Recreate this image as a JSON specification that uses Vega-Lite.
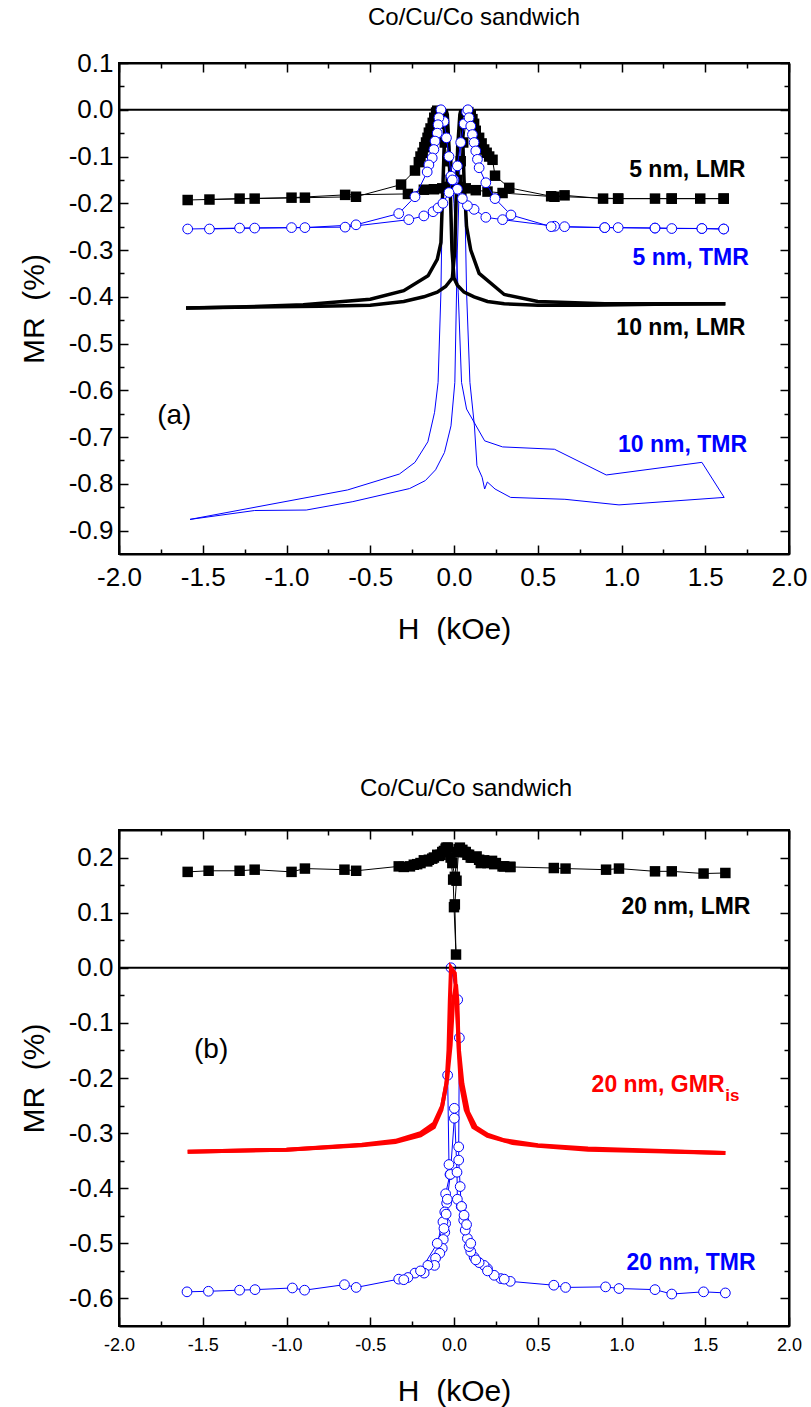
{
  "$schema": "https://vega.github.io/schema/vega-lite/v6.json",
  "background": "white",
  "padding": {"left": 18, "top": 5, "right": 5, "bottom": 0},
  "spacing": 131,
  "config": {
    "font": "Liberation Sans",
    "view": {"stroke": "black", "strokeWidth": 2},
    "axis": {"grid": false, "labelColor": "black", "titleColor": "black", "tickColor": "black", "domainColor": "black", "tickWidth": 1.5, "domainWidth": 2, "labelFlush": false, "labelOverlap": false, "titleFontWeight": "normal", "labelFont": "Liberation Sans", "titleFont": "Liberation Sans"}
  },
  "datasets": {
    "lmr5": [
      {"H": 1.61, "MR": -0.19, "b": "A"}, {"H": 1.47, "MR": -0.19, "b": "A"}, {"H": 1.3, "MR": -0.19, "b": "A"}, {"H": 1.2, "MR": -0.19, "b": "A"}, {"H": 0.98, "MR": -0.19, "b": "A"}, {"H": 0.89, "MR": -0.19, "b": "A"}, {"H": 0.66, "MR": -0.183, "b": "A"}, {"H": 0.6, "MR": -0.186, "b": "A"}, {"H": 0.29, "MR": -0.178, "b": "A"}, {"H": 0.2, "MR": -0.175, "b": "A"}, {"H": 0.13, "MR": -0.172, "b": "A"}, {"H": 0.07, "MR": -0.168, "b": "A"}, {"H": 0.03, "MR": -0.165, "b": "A"}, {"H": 0.0, "MR": -0.16, "b": "A"}, {"H": -0.02, "MR": -0.15, "b": "A"}, {"H": -0.04, "MR": -0.11, "b": "A"}, {"H": -0.055, "MR": -0.07, "b": "A"}, {"H": -0.07, "MR": -0.03, "b": "A"}, {"H": -0.085, "MR": -0.005, "b": "A"}, {"H": -0.1, "MR": -0.002, "b": "A"}, {"H": -0.107, "MR": -0.006, "b": "A"}, {"H": -0.118, "MR": -0.017, "b": "A"}, {"H": -0.127, "MR": -0.028, "b": "A"}, {"H": -0.14, "MR": -0.04, "b": "A"}, {"H": -0.15, "MR": -0.049, "b": "A"}, {"H": -0.158, "MR": -0.06, "b": "A"}, {"H": -0.167, "MR": -0.07, "b": "A"}, {"H": -0.177, "MR": -0.08, "b": "A"}, {"H": -0.187, "MR": -0.092, "b": "A"}, {"H": -0.2, "MR": -0.1, "b": "A"}, {"H": -0.21, "MR": -0.112, "b": "A"}, {"H": -0.233, "MR": -0.13, "b": "A"}, {"H": -0.316, "MR": -0.16, "b": "A"}, {"H": -0.585, "MR": -0.186, "b": "A"}, {"H": -0.89, "MR": -0.188, "b": "A"}, {"H": -1.19, "MR": -0.19, "b": "A"}, {"H": -1.46, "MR": -0.192, "b": "A"},
      {"H": -1.59, "MR": -0.193, "b": "B"}, {"H": -1.28, "MR": -0.19, "b": "B"}, {"H": -0.97, "MR": -0.188, "b": "B"}, {"H": -0.65, "MR": -0.182, "b": "B"}, {"H": -0.275, "MR": -0.18, "b": "B"}, {"H": -0.18, "MR": -0.171, "b": "B"}, {"H": -0.12, "MR": -0.17, "b": "B"}, {"H": -0.07, "MR": -0.168, "b": "B"}, {"H": -0.03, "MR": -0.165, "b": "B"}, {"H": 0.0, "MR": -0.16, "b": "B"}, {"H": 0.02, "MR": -0.15, "b": "B"}, {"H": 0.04, "MR": -0.11, "b": "B"}, {"H": 0.055, "MR": -0.07, "b": "B"}, {"H": 0.07, "MR": -0.03, "b": "B"}, {"H": 0.085, "MR": -0.005, "b": "B"}, {"H": 0.1, "MR": -0.01, "b": "B"}, {"H": 0.11, "MR": -0.02, "b": "B"}, {"H": 0.12, "MR": -0.03, "b": "B"}, {"H": 0.13, "MR": -0.045, "b": "B"}, {"H": 0.15, "MR": -0.06, "b": "B"}, {"H": 0.165, "MR": -0.072, "b": "B"}, {"H": 0.18, "MR": -0.085, "b": "B"}, {"H": 0.195, "MR": -0.092, "b": "B"}, {"H": 0.21, "MR": -0.1, "b": "B"}, {"H": 0.23, "MR": -0.107, "b": "B"}, {"H": 0.245, "MR": -0.141, "b": "B"}, {"H": 0.33, "MR": -0.167, "b": "B"}, {"H": 0.58, "MR": -0.185, "b": "B"}, {"H": 0.98, "MR": -0.19, "b": "B"}, {"H": 1.3, "MR": -0.19, "b": "B"}, {"H": 1.61, "MR": -0.19, "b": "B"}
    ],
    "tmr5": [
      {"H": 1.61, "MR": -0.255, "b": "A"}, {"H": 1.48, "MR": -0.254, "b": "A"}, {"H": 1.3, "MR": -0.254, "b": "A"}, {"H": 1.2, "MR": -0.253, "b": "A"}, {"H": 0.98, "MR": -0.252, "b": "A"}, {"H": 0.9, "MR": -0.252, "b": "A"}, {"H": 0.66, "MR": -0.25, "b": "A"}, {"H": 0.6, "MR": -0.249, "b": "A"}, {"H": 0.29, "MR": -0.235, "b": "A"}, {"H": 0.19, "MR": -0.23, "b": "A"}, {"H": 0.12, "MR": -0.213, "b": "A"}, {"H": 0.08, "MR": -0.205, "b": "A"}, {"H": 0.05, "MR": -0.19, "b": "A"}, {"H": 0.02, "MR": -0.17, "b": "A"}, {"H": 0.0, "MR": -0.15, "b": "A"}, {"H": -0.018, "MR": -0.142, "b": "A"}, {"H": -0.03, "MR": -0.1, "b": "A"}, {"H": -0.045, "MR": -0.06, "b": "A"}, {"H": -0.06, "MR": -0.025, "b": "A"}, {"H": -0.078, "MR": 0.0, "b": "A"}, {"H": -0.09, "MR": -0.017, "b": "A"}, {"H": -0.095, "MR": -0.032, "b": "A"}, {"H": -0.1, "MR": -0.05, "b": "A"}, {"H": -0.113, "MR": -0.067, "b": "A"}, {"H": -0.12, "MR": -0.085, "b": "A"}, {"H": -0.13, "MR": -0.103, "b": "A"}, {"H": -0.15, "MR": -0.118, "b": "A"}, {"H": -0.16, "MR": -0.133, "b": "A"}, {"H": -0.233, "MR": -0.186, "b": "A"}, {"H": -0.33, "MR": -0.222, "b": "A"}, {"H": -0.585, "MR": -0.246, "b": "A"}, {"H": -0.89, "MR": -0.252, "b": "A"}, {"H": -1.19, "MR": -0.253, "b": "A"}, {"H": -1.46, "MR": -0.255, "b": "A"},
      {"H": -1.59, "MR": -0.255, "b": "B"}, {"H": -1.28, "MR": -0.253, "b": "B"}, {"H": -0.97, "MR": -0.252, "b": "B"}, {"H": -0.65, "MR": -0.251, "b": "B"}, {"H": -0.27, "MR": -0.235, "b": "B"}, {"H": -0.18, "MR": -0.227, "b": "B"}, {"H": -0.125, "MR": -0.218, "b": "B"}, {"H": -0.095, "MR": -0.21, "b": "B"}, {"H": -0.066, "MR": -0.2, "b": "B"}, {"H": -0.03, "MR": -0.177, "b": "B"}, {"H": -0.01, "MR": -0.15, "b": "B"}, {"H": 0.02, "MR": -0.12, "b": "B"}, {"H": 0.04, "MR": -0.07, "b": "B"}, {"H": 0.06, "MR": -0.03, "b": "B"}, {"H": 0.075, "MR": -0.005, "b": "B"}, {"H": 0.083, "MR": 0.0, "b": "B"}, {"H": 0.09, "MR": -0.017, "b": "B"}, {"H": 0.1, "MR": -0.035, "b": "B"}, {"H": 0.11, "MR": -0.053, "b": "B"}, {"H": 0.12, "MR": -0.07, "b": "B"}, {"H": 0.13, "MR": -0.088, "b": "B"}, {"H": 0.14, "MR": -0.106, "b": "B"}, {"H": 0.15, "MR": -0.124, "b": "B"}, {"H": 0.19, "MR": -0.156, "b": "B"}, {"H": 0.245, "MR": -0.19, "b": "B"}, {"H": 0.34, "MR": -0.225, "b": "B"}, {"H": 0.58, "MR": -0.25, "b": "B"}, {"H": 0.9, "MR": -0.252, "b": "B"}, {"H": 1.2, "MR": -0.253, "b": "B"}, {"H": 1.48, "MR": -0.254, "b": "B"}, {"H": 1.61, "MR": -0.255, "b": "B"}
    ],
    "lmr10": [
      {"H": 1.62, "MR": -0.415, "b": "A"}, {"H": 1.2, "MR": -0.416, "b": "A"}, {"H": 0.8, "MR": -0.418, "b": "A"}, {"H": 0.5, "MR": -0.418, "b": "A"}, {"H": 0.3, "MR": -0.415, "b": "A"}, {"H": 0.2, "MR": -0.41, "b": "A"}, {"H": 0.12, "MR": -0.4, "b": "A"}, {"H": 0.06, "MR": -0.39, "b": "A"}, {"H": 0.02, "MR": -0.375, "b": "A"}, {"H": 0.0, "MR": -0.36, "b": "A"}, {"H": -0.012, "MR": -0.3, "b": "A"}, {"H": -0.02, "MR": -0.2, "b": "A"}, {"H": -0.03, "MR": -0.08, "b": "A"}, {"H": -0.04, "MR": -0.01, "b": "A"}, {"H": -0.048, "MR": 0.0, "b": "A"}, {"H": -0.055, "MR": -0.04, "b": "A"}, {"H": -0.065, "MR": -0.15, "b": "A"}, {"H": -0.078, "MR": -0.284, "b": "A"}, {"H": -0.1, "MR": -0.32, "b": "A"}, {"H": -0.155, "MR": -0.355, "b": "A"}, {"H": -0.3, "MR": -0.387, "b": "A"}, {"H": -0.5, "MR": -0.405, "b": "A"}, {"H": -0.9, "MR": -0.417, "b": "A"}, {"H": -1.3, "MR": -0.422, "b": "A"}, {"H": -1.6, "MR": -0.424, "b": "A"},
      {"H": -1.6, "MR": -0.424, "b": "B"}, {"H": -1.2, "MR": -0.422, "b": "B"}, {"H": -0.8, "MR": -0.42, "b": "B"}, {"H": -0.5, "MR": -0.418, "b": "B"}, {"H": -0.3, "MR": -0.41, "b": "B"}, {"H": -0.18, "MR": -0.4, "b": "B"}, {"H": -0.1, "MR": -0.39, "b": "B"}, {"H": -0.05, "MR": -0.378, "b": "B"}, {"H": -0.01, "MR": -0.36, "b": "B"}, {"H": 0.005, "MR": -0.3, "b": "B"}, {"H": 0.012, "MR": -0.2, "b": "B"}, {"H": 0.022, "MR": -0.08, "b": "B"}, {"H": 0.035, "MR": -0.01, "b": "B"}, {"H": 0.042, "MR": 0.0, "b": "B"}, {"H": 0.05, "MR": -0.04, "b": "B"}, {"H": 0.06, "MR": -0.15, "b": "B"}, {"H": 0.075, "MR": -0.25, "b": "B"}, {"H": 0.1, "MR": -0.3, "b": "B"}, {"H": 0.15, "MR": -0.35, "b": "B"}, {"H": 0.3, "MR": -0.395, "b": "B"}, {"H": 0.5, "MR": -0.41, "b": "B"}, {"H": 0.9, "MR": -0.415, "b": "B"}, {"H": 1.3, "MR": -0.415, "b": "B"}, {"H": 1.62, "MR": -0.415, "b": "B"}
    ],
    "tmr10": [
      {"H": 1.613, "MR": -0.829, "b": "A"}, {"H": 1.48, "MR": -0.754, "b": "A"}, {"H": 0.909, "MR": -0.781, "b": "A"}, {"H": 0.6, "MR": -0.726, "b": "A"}, {"H": 0.29, "MR": -0.721, "b": "A"}, {"H": 0.183, "MR": -0.708, "b": "A"}, {"H": 0.075, "MR": -0.64, "b": "A"}, {"H": 0.045, "MR": -0.583, "b": "A"}, {"H": 0.025, "MR": -0.39, "b": "A"}, {"H": 0.0, "MR": -0.2, "b": "A"}, {"H": -0.03, "MR": -0.06, "b": "A"}, {"H": -0.055, "MR": -0.01, "b": "A"}, {"H": -0.066, "MR": -0.1, "b": "A"}, {"H": -0.078, "MR": -0.39, "b": "A"}, {"H": -0.095, "MR": -0.583, "b": "A"}, {"H": -0.116, "MR": -0.647, "b": "A"}, {"H": -0.156, "MR": -0.71, "b": "A"}, {"H": -0.233, "MR": -0.754, "b": "A"}, {"H": -0.326, "MR": -0.779, "b": "A"}, {"H": -0.635, "MR": -0.813, "b": "A"}, {"H": -1.576, "MR": -0.876, "b": "A"},
      {"H": -1.576, "MR": -0.876, "b": "B"}, {"H": -1.19, "MR": -0.857, "b": "B"}, {"H": -0.882, "MR": -0.856, "b": "B"}, {"H": -0.604, "MR": -0.838, "b": "B"}, {"H": -0.265, "MR": -0.81, "b": "B"}, {"H": -0.171, "MR": -0.793, "b": "B"}, {"H": -0.11, "MR": -0.77, "b": "B"}, {"H": -0.057, "MR": -0.733, "b": "B"}, {"H": -0.018, "MR": -0.676, "b": "B"}, {"H": 0.005, "MR": -0.583, "b": "B"}, {"H": 0.02, "MR": -0.3, "b": "B"}, {"H": 0.04, "MR": -0.06, "b": "B"}, {"H": 0.05, "MR": -0.01, "b": "B"}, {"H": 0.06, "MR": -0.1, "b": "B"}, {"H": 0.075, "MR": -0.39, "b": "B"}, {"H": 0.095, "MR": -0.583, "b": "B"}, {"H": 0.122, "MR": -0.676, "b": "B"}, {"H": 0.137, "MR": -0.761, "b": "B"}, {"H": 0.168, "MR": -0.786, "b": "B"}, {"H": 0.183, "MR": -0.811, "b": "B"}, {"H": 0.199, "MR": -0.796, "b": "B"}, {"H": 0.245, "MR": -0.811, "b": "B"}, {"H": 0.338, "MR": -0.829, "b": "B"}, {"H": 0.662, "MR": -0.833, "b": "B"}, {"H": 0.985, "MR": -0.845, "b": "B"}, {"H": 1.613, "MR": -0.829, "b": "B"}
    ],
    "lmr20": [
      {"H": 1.62, "MR": 0.172, "b": "A"}, {"H": 1.49, "MR": 0.171, "b": "A"}, {"H": 1.3, "MR": 0.175, "b": "A"}, {"H": 1.2, "MR": 0.175, "b": "A"}, {"H": 0.985, "MR": 0.18, "b": "A"}, {"H": 0.908, "MR": 0.178, "b": "A"}, {"H": 0.666, "MR": 0.18, "b": "A"}, {"H": 0.596, "MR": 0.181, "b": "A"}, {"H": 0.336, "MR": 0.183, "b": "A"}, {"H": 0.29, "MR": 0.184, "b": "A"}, {"H": 0.227, "MR": 0.194, "b": "A"}, {"H": 0.16, "MR": 0.19, "b": "A"}, {"H": 0.135, "MR": 0.202, "b": "A"}, {"H": 0.1, "MR": 0.2, "b": "A"}, {"H": 0.06, "MR": 0.21, "b": "A"}, {"H": 0.028, "MR": 0.215, "b": "A"}, {"H": 0.015, "MR": 0.158, "b": "A"}, {"H": 0.005, "MR": 0.115, "b": "A"}, {"H": 0.012, "MR": 0.024, "b": "A"}, {"H": 0.0, "MR": 0.11, "b": "A"}, {"H": -0.005, "MR": 0.16, "b": "A"}, {"H": -0.02, "MR": 0.2, "b": "A"}, {"H": -0.05, "MR": 0.216, "b": "A"}, {"H": -0.08, "MR": 0.205, "b": "A"}, {"H": -0.12, "MR": 0.2, "b": "A"}, {"H": -0.18, "MR": 0.195, "b": "A"}, {"H": -0.24, "MR": 0.187, "b": "A"}, {"H": -0.33, "MR": 0.184, "b": "A"}, {"H": -0.584, "MR": 0.176, "b": "A"}, {"H": -0.654, "MR": 0.178, "b": "A"}, {"H": -0.89, "MR": 0.18, "b": "A"}, {"H": -0.97, "MR": 0.174, "b": "A"}, {"H": -1.19, "MR": 0.178, "b": "A"}, {"H": -1.28, "MR": 0.176, "b": "A"}, {"H": -1.465, "MR": 0.176, "b": "A"}, {"H": -1.59, "MR": 0.174, "b": "A"},
      {"H": -0.3, "MR": 0.183, "b": "B"}, {"H": -0.263, "MR": 0.184, "b": "B"}, {"H": -0.22, "MR": 0.188, "b": "B"}, {"H": -0.2, "MR": 0.19, "b": "B"}, {"H": -0.16, "MR": 0.193, "b": "B"}, {"H": -0.15, "MR": 0.196, "b": "B"}, {"H": -0.13, "MR": 0.198, "b": "B"}, {"H": -0.1, "MR": 0.205, "b": "B"}, {"H": -0.09, "MR": 0.203, "b": "B"}, {"H": -0.07, "MR": 0.21, "b": "B"}, {"H": -0.06, "MR": 0.212, "b": "B"}, {"H": -0.045, "MR": 0.218, "b": "B"}, {"H": -0.036, "MR": 0.218, "b": "B"}, {"H": -0.01, "MR": 0.19, "b": "B"}, {"H": 0.005, "MR": 0.165, "b": "B"}, {"H": 0.02, "MR": 0.21, "b": "B"}, {"H": 0.035, "MR": 0.218, "b": "B"}, {"H": 0.04, "MR": 0.213, "b": "B"}, {"H": 0.05, "MR": 0.214, "b": "B"}, {"H": 0.07, "MR": 0.21, "b": "B"}, {"H": 0.08, "MR": 0.205, "b": "B"}, {"H": 0.09, "MR": 0.205, "b": "B"}, {"H": 0.11, "MR": 0.2, "b": "B"}, {"H": 0.12, "MR": 0.2, "b": "B"}, {"H": 0.15, "MR": 0.196, "b": "B"}, {"H": 0.18, "MR": 0.195, "b": "B"}, {"H": 0.2, "MR": 0.19, "b": "B"}, {"H": 0.24, "MR": 0.188, "b": "B"}, {"H": 0.25, "MR": 0.19, "b": "B"}, {"H": 0.3, "MR": 0.184, "b": "B"}, {"H": 0.336, "MR": 0.183, "b": "B"}
    ],
    "gmr20": [
      {"H": 1.62, "MR": -0.336, "b": "A"}, {"H": 1.2, "MR": -0.332, "b": "A"}, {"H": 0.8, "MR": -0.328, "b": "A"}, {"H": 0.5, "MR": -0.322, "b": "A"}, {"H": 0.3, "MR": -0.313, "b": "A"}, {"H": 0.2, "MR": -0.303, "b": "A"}, {"H": 0.13, "MR": -0.289, "b": "A"}, {"H": 0.084, "MR": -0.262, "b": "A"}, {"H": 0.05, "MR": -0.21, "b": "A"}, {"H": 0.03, "MR": -0.15, "b": "A"}, {"H": 0.015, "MR": -0.06, "b": "A"}, {"H": 0.005, "MR": -0.01, "b": "A"}, {"H": -0.018, "MR": 0.0, "b": "A"}, {"H": -0.025, "MR": -0.06, "b": "A"}, {"H": -0.033, "MR": -0.15, "b": "A"}, {"H": -0.045, "MR": -0.21, "b": "A"}, {"H": -0.075, "MR": -0.258, "b": "A"}, {"H": -0.12, "MR": -0.289, "b": "A"}, {"H": -0.2, "MR": -0.304, "b": "A"}, {"H": -0.35, "MR": -0.316, "b": "A"}, {"H": -0.55, "MR": -0.322, "b": "A"}, {"H": -1.0, "MR": -0.33, "b": "A"}, {"H": -1.59, "MR": -0.334, "b": "A"},
      {"H": -1.59, "MR": -0.334, "b": "B"}, {"H": -1.0, "MR": -0.33, "b": "B"}, {"H": -0.55, "MR": -0.321, "b": "B"}, {"H": -0.35, "MR": -0.314, "b": "B"}, {"H": -0.2, "MR": -0.3, "b": "B"}, {"H": -0.12, "MR": -0.283, "b": "B"}, {"H": -0.07, "MR": -0.25, "b": "B"}, {"H": -0.04, "MR": -0.2, "b": "B"}, {"H": -0.02, "MR": -0.14, "b": "B"}, {"H": -0.005, "MR": -0.06, "b": "B"}, {"H": 0.012, "MR": -0.03, "b": "B"}, {"H": 0.02, "MR": -0.06, "b": "B"}, {"H": 0.028, "MR": -0.15, "b": "B"}, {"H": 0.04, "MR": -0.21, "b": "B"}, {"H": 0.07, "MR": -0.258, "b": "B"}, {"H": 0.115, "MR": -0.289, "b": "B"}, {"H": 0.2, "MR": -0.305, "b": "B"}, {"H": 0.35, "MR": -0.318, "b": "B"}, {"H": 0.5, "MR": -0.323, "b": "B"}, {"H": 0.8, "MR": -0.33, "b": "B"}, {"H": 1.2, "MR": -0.333, "b": "B"}, {"H": 1.62, "MR": -0.336, "b": "B"}
    ],
    "tmr20": [
      {"H": 1.62, "MR": -0.59, "b": "A"}, {"H": 1.49, "MR": -0.588, "b": "A"}, {"H": 1.3, "MR": -0.592, "b": "A"}, {"H": 1.2, "MR": -0.584, "b": "A"}, {"H": 0.985, "MR": -0.582, "b": "A"}, {"H": 0.905, "MR": -0.579, "b": "A"}, {"H": 0.666, "MR": -0.58, "b": "A"}, {"H": 0.596, "MR": -0.576, "b": "A"}, {"H": 0.336, "MR": -0.569, "b": "A"}, {"H": 0.28, "MR": -0.564, "b": "A"}, {"H": 0.24, "MR": -0.558, "b": "A"}, {"H": 0.2, "MR": -0.546, "b": "A"}, {"H": 0.18, "MR": -0.54, "b": "A"}, {"H": 0.15, "MR": -0.535, "b": "A"}, {"H": 0.12, "MR": -0.525, "b": "A"}, {"H": 0.1, "MR": -0.515, "b": "A"}, {"H": 0.09, "MR": -0.506, "b": "A"}, {"H": 0.08, "MR": -0.491, "b": "A"}, {"H": 0.067, "MR": -0.476, "b": "A"}, {"H": 0.058, "MR": -0.458, "b": "A"}, {"H": 0.043, "MR": -0.433, "b": "A"}, {"H": 0.037, "MR": -0.397, "b": "A"}, {"H": 0.028, "MR": -0.349, "b": "A"}, {"H": 0.028, "MR": -0.325, "b": "A"}, {"H": 0.032, "MR": -0.127, "b": "A"}, {"H": 0.022, "MR": -0.058, "b": "A"}, {"H": -0.018, "MR": 0.0, "b": "A"}, {"H": -0.038, "MR": -0.195, "b": "A"}, {"H": -0.03, "MR": -0.357, "b": "A"}, {"H": -0.024, "MR": -0.375, "b": "A"}, {"H": -0.05, "MR": -0.41, "b": "A"}, {"H": -0.044, "MR": -0.427, "b": "A"}, {"H": -0.055, "MR": -0.443, "b": "A"}, {"H": -0.05, "MR": -0.464, "b": "A"}, {"H": -0.055, "MR": -0.48, "b": "A"}, {"H": -0.064, "MR": -0.493, "b": "A"}, {"H": -0.07, "MR": -0.509, "b": "A"}, {"H": -0.085, "MR": -0.518, "b": "A"}, {"H": -0.11, "MR": -0.527, "b": "A"}, {"H": -0.116, "MR": -0.54, "b": "A"}, {"H": -0.156, "MR": -0.54, "b": "A"}, {"H": -0.178, "MR": -0.554, "b": "A"}, {"H": -0.233, "MR": -0.554, "b": "A"}, {"H": -0.275, "MR": -0.562, "b": "A"}, {"H": -0.33, "MR": -0.565, "b": "A"}, {"H": -0.584, "MR": -0.58, "b": "A"}, {"H": -0.654, "MR": -0.575, "b": "A"}, {"H": -0.892, "MR": -0.585, "b": "A"}, {"H": -0.965, "MR": -0.581, "b": "A"}, {"H": -1.188, "MR": -0.584, "b": "A"}, {"H": -1.28, "MR": -0.585, "b": "A"}, {"H": -1.466, "MR": -0.587, "b": "A"}, {"H": -1.594, "MR": -0.588, "b": "A"},
      {"H": -0.3, "MR": -0.566, "b": "B"}, {"H": -0.2, "MR": -0.55, "b": "B"}, {"H": -0.1, "MR": -0.5, "b": "B"}, {"H": -0.066, "MR": -0.461, "b": "B"}, {"H": -0.06, "MR": -0.473, "b": "B"}, {"H": -0.047, "MR": -0.447, "b": "B"}, {"H": -0.04, "MR": -0.42, "b": "B"}, {"H": -0.022, "MR": -0.375, "b": "B"}, {"H": 0.002, "MR": -0.273, "b": "B"}, {"H": 0.002, "MR": -0.255, "b": "B"}, {"H": 0.018, "MR": -0.371, "b": "B"}, {"H": 0.02, "MR": -0.42, "b": "B"}, {"H": 0.045, "MR": -0.433, "b": "B"}, {"H": 0.06, "MR": -0.449, "b": "B"}, {"H": 0.075, "MR": -0.466, "b": "B"}, {"H": 0.1, "MR": -0.5, "b": "B"}, {"H": 0.13, "MR": -0.53, "b": "B"}, {"H": 0.2, "MR": -0.55, "b": "B"}, {"H": 0.3, "MR": -0.565, "b": "B"}
    ]
  },
  "vconcat": [
    {
      "width": 670,
      "height": 491,
      "title": {"text": "Co/Cu/Co sandwich", "fontSize": 24, "fontWeight": "normal", "color": "black", "offset": 20, "dx": 20},
      "layer": [
        {
          "data": {"name": "tmr10"},
          "mark": {"type": "line", "color": "#0000ff", "strokeWidth": 1},
          "encoding": {
            "x": {"field": "H", "type": "quantitative", "scale": {"domain": [-2, 2], "nice": false, "zero": false},
              "axis": {"orient": "bottom", "values": [-2, -1.75, -1.5, -1.25, -1, -0.75, -0.5, -0.25, 0, 0.25, 0.5, 0.75, 1, 1.25, 1.5, 1.75, 2], "title": "H\u00a0\u00a0(kOe)", "titleFontSize": 30, "titlePadding": 20, "labelFontSize": 26, "labelPadding": 19,
                "labelExpr": "abs(datum.value*2-round(datum.value*2))<0.01 ? (datum.value<0?'-':'')+format(abs(datum.value),'.1f') : ''",
                "tickSize": {"condition": {"test": "abs(datum.value*2-round(datum.value*2))>0.01", "value": -5}, "value": -9}}},
            "y": {"field": "MR", "type": "quantitative", "scale": {"domain": [-0.95, 0.1], "nice": false, "zero": false},
              "axis": {"orient": "left", "values": [-0.9, -0.85, -0.8, -0.75, -0.7, -0.65, -0.6, -0.55, -0.5, -0.45, -0.4, -0.35, -0.3, -0.25, -0.2, -0.15, -0.1, -0.05, 0, 0.05, 0.1], "title": "MR\u00a0\u00a0(%)", "titleFontSize": 30, "titlePadding": 19, "labelFontSize": 26, "labelPadding": 15,
                "labelExpr": "abs(datum.value*10-round(datum.value*10))<0.01 ? (datum.value<0?'-':'')+format(abs(datum.value),'.1f') : ''",
                "tickSize": {"condition": {"test": "abs(datum.value*10-round(datum.value*10))>0.01", "value": -5}, "value": -9}}},
            "detail": {"field": "b"},
            "order": {"value": null}
          }
        },
        {
          "data": {"values": [{"MR": 0}]},
          "mark": {"type": "rule", "color": "black", "strokeWidth": 2},
          "encoding": {"y": {"field": "MR", "type": "quantitative", "axis": null}}
        },
        {
          "data": {"name": "lmr10"},
          "mark": {"type": "line", "color": "black", "strokeWidth": 3.5},
          "encoding": {
            "x": {"field": "H", "type": "quantitative", "axis": null},
            "y": {"field": "MR", "type": "quantitative", "axis": null},
            "detail": {"field": "b"},
            "order": {"value": null}
          }
        },
        {
          "data": {"name": "lmr5"},
          "mark": {"type": "line", "color": "black", "strokeWidth": 1},
          "encoding": {
            "x": {"field": "H", "type": "quantitative", "axis": null},
            "y": {"field": "MR", "type": "quantitative", "axis": null},
            "detail": {"field": "b"},
            "order": {"value": null}
          }
        },
        {
          "data": {"name": "lmr5"},
          "mark": {"type": "point", "shape": "square", "filled": true, "color": "black", "size": 110, "opacity": 1},
          "encoding": {
            "x": {"field": "H", "type": "quantitative", "axis": null},
            "y": {"field": "MR", "type": "quantitative", "axis": null}
          }
        },
        {
          "data": {"name": "tmr5"},
          "mark": {"type": "line", "color": "#0000ff", "strokeWidth": 1},
          "encoding": {
            "x": {"field": "H", "type": "quantitative", "axis": null},
            "y": {"field": "MR", "type": "quantitative", "axis": null},
            "detail": {"field": "b"},
            "order": {"value": null}
          }
        },
        {
          "data": {"name": "tmr5"},
          "mark": {"type": "point", "shape": "circle", "filled": true, "fill": "white", "stroke": "#0000ff", "strokeWidth": 1, "size": 95, "opacity": 1},
          "encoding": {
            "x": {"field": "H", "type": "quantitative", "axis": null},
            "y": {"field": "MR", "type": "quantitative", "axis": null}
          }
        },
        {
          "data": {"values": [{"H": 1.74, "MR": -0.128, "t": "5 nm, LMR"}, {"H": 1.74, "MR": -0.466, "t": "10 nm, LMR"}]},
          "mark": {"type": "text", "align": "right", "baseline": "middle", "fontWeight": "bold", "fontSize": 23, "color": "black"},
          "encoding": {
            "x": {"field": "H", "type": "quantitative",
              "axis": {"orient": "top", "values": [-2, -1.75, -1.5, -1.25, -1, -0.75, -0.5, -0.25, 0, 0.25, 0.5, 0.75, 1, 1.25, 1.5, 1.75, 2], "labels": false, "title": null,
                "tickSize": {"condition": {"test": "abs(datum.value*2-round(datum.value*2))>0.01", "value": -5}, "value": -9}}},
            "y": {"field": "MR", "type": "quantitative",
              "axis": {"orient": "right", "values": [-0.9, -0.85, -0.8, -0.75, -0.7, -0.65, -0.6, -0.55, -0.5, -0.45, -0.4, -0.35, -0.3, -0.25, -0.2, -0.15, -0.1, -0.05, 0, 0.05, 0.1], "labels": false, "title": null,
                "tickSize": {"condition": {"test": "abs(datum.value*10-round(datum.value*10))>0.01", "value": -5}, "value": -9}}},
            "text": {"field": "t"}
          }
        },
        {
          "data": {"values": [{"H": 1.76, "MR": -0.316, "t": "5 nm, TMR"}, {"H": 1.75, "MR": -0.716, "t": "10 nm, TMR"}]},
          "mark": {"type": "text", "align": "right", "baseline": "middle", "fontWeight": "bold", "fontSize": 23, "color": "#0000ff"},
          "encoding": {
            "x": {"field": "H", "type": "quantitative", "axis": null},
            "y": {"field": "MR", "type": "quantitative", "axis": null},
            "text": {"field": "t"}
          }
        },
        {
          "data": {"values": [{"H": -1.67, "MR": -0.654, "t": "(a)"}]},
          "mark": {"type": "text", "align": "center", "baseline": "middle", "fontSize": 28, "color": "black"},
          "encoding": {
            "x": {"field": "H", "type": "quantitative", "axis": null},
            "y": {"field": "MR", "type": "quantitative", "axis": null},
            "text": {"field": "t"}
          }
        }
      ]
    },
    {
      "width": 670,
      "height": 496,
      "title": {"text": "Co/Cu/Co sandwich", "fontSize": 24, "fontWeight": "normal", "color": "black", "offset": 28, "dx": 12},
      "layer": [
        {
          "data": {"name": "tmr20"},
          "mark": {"type": "line", "color": "#0000ff", "strokeWidth": 1},
          "encoding": {
            "x": {"field": "H", "type": "quantitative", "scale": {"domain": [-2, 2], "nice": false, "zero": false},
              "axis": {"orient": "bottom", "values": [-2, -1.75, -1.5, -1.25, -1, -0.75, -0.5, -0.25, 0, 0.25, 0.5, 0.75, 1, 1.25, 1.5, 1.75, 2], "title": "H\u00a0\u00a0(kOe)", "titleFontSize": 30, "titlePadding": 18, "labelFontSize": 18, "labelPadding": 19,
                "labelExpr": "abs(datum.value*2-round(datum.value*2))<0.01 ? (datum.value<0?'-':'')+format(abs(datum.value),'.1f') : ''",
                "tickSize": {"condition": {"test": "abs(datum.value*2-round(datum.value*2))>0.01", "value": -5}, "value": -9}}},
            "y": {"field": "MR", "type": "quantitative", "scale": {"domain": [-0.65, 0.25], "nice": false, "zero": false},
              "axis": {"orient": "left", "values": [-0.6, -0.55, -0.5, -0.45, -0.4, -0.35, -0.3, -0.25, -0.2, -0.15, -0.1, -0.05, 0, 0.05, 0.1, 0.15, 0.2], "title": "MR\u00a0\u00a0(%)", "titleFontSize": 30, "titlePadding": 19, "labelFontSize": 26, "labelPadding": 15,
                "labelExpr": "abs(datum.value*10-round(datum.value*10))<0.01 ? (datum.value<0?'-':'')+format(abs(datum.value),'.1f') : ''",
                "tickSize": {"condition": {"test": "abs(datum.value*10-round(datum.value*10))>0.01", "value": -5}, "value": -9}}},
            "detail": {"field": "b"},
            "order": {"value": null}
          }
        },
        {
          "data": {"name": "tmr20"},
          "mark": {"type": "point", "shape": "circle", "filled": true, "fill": "white", "stroke": "#0000ff", "strokeWidth": 1, "size": 95, "opacity": 1},
          "encoding": {
            "x": {"field": "H", "type": "quantitative", "axis": null},
            "y": {"field": "MR", "type": "quantitative", "axis": null}
          }
        },
        {
          "data": {"values": [{"MR": 0}]},
          "mark": {"type": "rule", "color": "black", "strokeWidth": 2},
          "encoding": {"y": {"field": "MR", "type": "quantitative", "axis": null}}
        },
        {
          "data": {"name": "lmr20"},
          "mark": {"type": "line", "color": "black", "strokeWidth": 1},
          "encoding": {
            "x": {"field": "H", "type": "quantitative", "axis": null},
            "y": {"field": "MR", "type": "quantitative", "axis": null},
            "detail": {"field": "b"},
            "order": {"value": null}
          }
        },
        {
          "data": {"name": "lmr20"},
          "mark": {"type": "point", "shape": "square", "filled": true, "color": "black", "size": 110, "opacity": 1},
          "encoding": {
            "x": {"field": "H", "type": "quantitative", "axis": null},
            "y": {"field": "MR", "type": "quantitative", "axis": null}
          }
        },
        {
          "data": {"name": "gmr20"},
          "mark": {"type": "line", "color": "#ff0000", "strokeWidth": 4},
          "encoding": {
            "x": {"field": "H", "type": "quantitative", "axis": null},
            "y": {"field": "MR", "type": "quantitative", "axis": null},
            "detail": {"field": "b"},
            "order": {"value": null}
          }
        },
        {
          "data": {"values": [{"H": 1.77, "MR": 0.111, "t": "20 nm, LMR"}]},
          "mark": {"type": "text", "align": "right", "baseline": "middle", "fontWeight": "bold", "fontSize": 23, "color": "black"},
          "encoding": {
            "x": {"field": "H", "type": "quantitative",
              "axis": {"orient": "top", "values": [-2, -1.75, -1.5, -1.25, -1, -0.75, -0.5, -0.25, 0, 0.25, 0.5, 0.75, 1, 1.25, 1.5, 1.75, 2], "labels": false, "title": null,
                "tickSize": {"condition": {"test": "abs(datum.value*2-round(datum.value*2))>0.01", "value": -5}, "value": -9}}},
            "y": {"field": "MR", "type": "quantitative",
              "axis": {"orient": "right", "values": [-0.6, -0.55, -0.5, -0.45, -0.4, -0.35, -0.3, -0.25, -0.2, -0.15, -0.1, -0.05, 0, 0.05, 0.1, 0.15, 0.2], "labels": false, "title": null,
                "tickSize": {"condition": {"test": "abs(datum.value*10-round(datum.value*10))>0.01", "value": -5}, "value": -9}}},
            "text": {"field": "t"}
          }
        },
        {
          "data": {"values": [{"H": 1.615, "MR": -0.213, "t": "20 nm, GMR"}]},
          "mark": {"type": "text", "align": "right", "baseline": "middle", "fontWeight": "bold", "fontSize": 23, "color": "#ff0000"},
          "encoding": {
            "x": {"field": "H", "type": "quantitative", "axis": null},
            "y": {"field": "MR", "type": "quantitative", "axis": null},
            "text": {"field": "t"}
          }
        },
        {
          "data": {"values": [{"H": 1.62, "MR": -0.232, "t": "is"}]},
          "mark": {"type": "text", "align": "left", "baseline": "middle", "fontWeight": "bold", "fontSize": 17, "color": "#ff0000"},
          "encoding": {
            "x": {"field": "H", "type": "quantitative", "axis": null},
            "y": {"field": "MR", "type": "quantitative", "axis": null},
            "text": {"field": "t"}
          }
        },
        {
          "data": {"values": [{"H": 1.8, "MR": -0.536, "t": "20 nm, TMR"}]},
          "mark": {"type": "text", "align": "right", "baseline": "middle", "fontWeight": "bold", "fontSize": 23, "color": "#0000ff"},
          "encoding": {
            "x": {"field": "H", "type": "quantitative", "axis": null},
            "y": {"field": "MR", "type": "quantitative", "axis": null},
            "text": {"field": "t"}
          }
        },
        {
          "data": {"values": [{"H": -1.45, "MR": -0.149, "t": "(b)"}]},
          "mark": {"type": "text", "align": "center", "baseline": "middle", "fontSize": 28, "color": "black"},
          "encoding": {
            "x": {"field": "H", "type": "quantitative", "axis": null},
            "y": {"field": "MR", "type": "quantitative", "axis": null},
            "text": {"field": "t"}
          }
        }
      ]
    }
  ]
}
